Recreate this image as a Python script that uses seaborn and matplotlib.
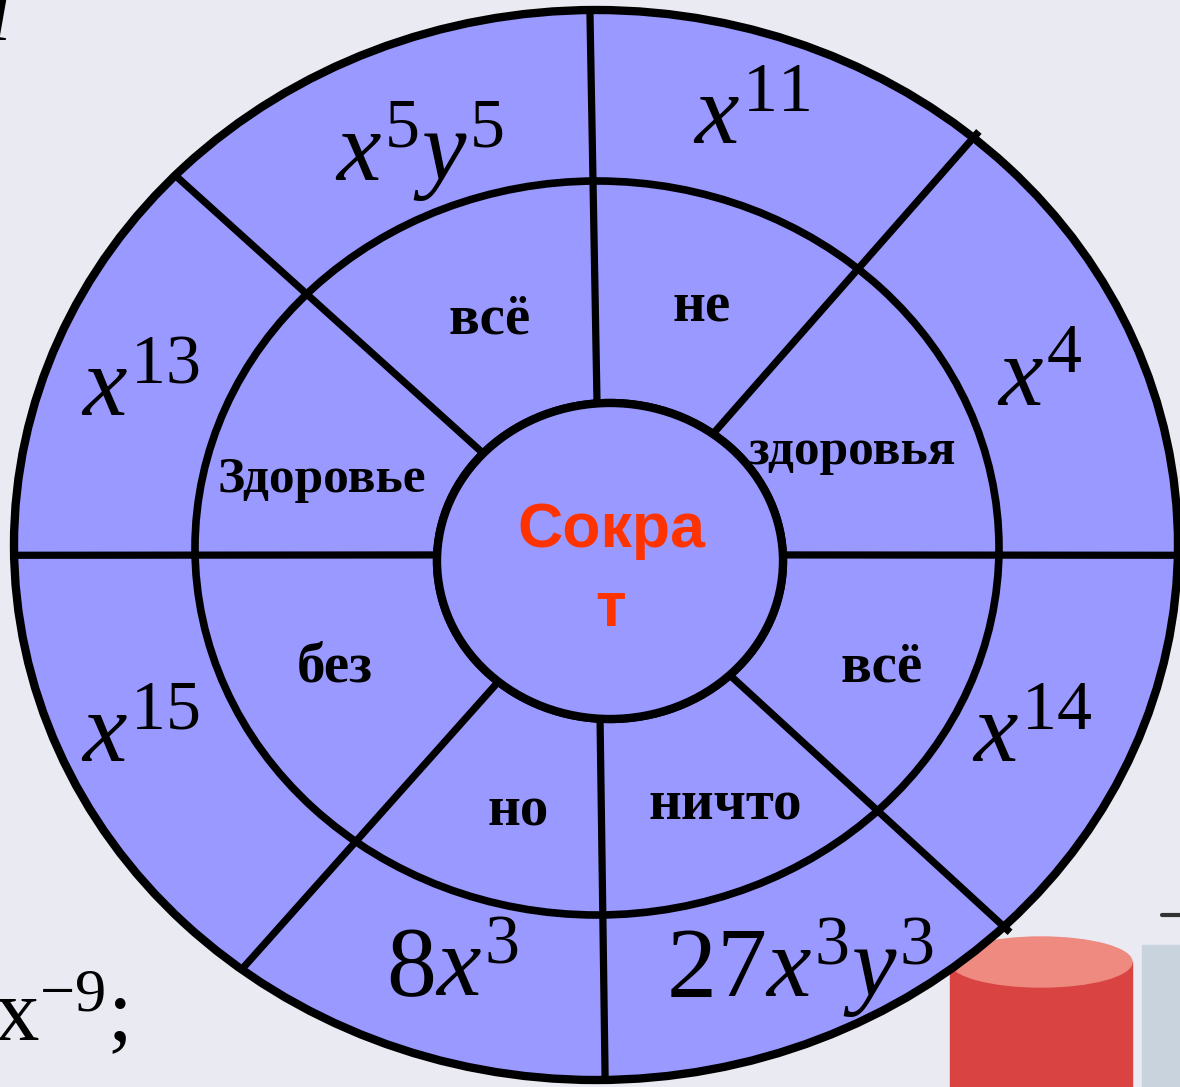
import numpy as np
import matplotlib
matplotlib.use("Agg")
import matplotlib.pyplot as plt
from matplotlib.patches import Ellipse, Rectangle
import seaborn as sns

sns.set_theme(style="white")
plt.rcParams['font.family'] = ['Liberation Serif', 'DejaVu Serif']
plt.rcParams['mathtext.fontset'] = 'custom'
plt.rcParams['mathtext.rm'] = 'Liberation Serif'
plt.rcParams['mathtext.it'] = 'Liberation Serif:italic'

# слова в среднем кольце (по часовой стрелке от верха)
words = ["не", "здоровья", "всё", "ничто", "но", "без", "Здоровье", "всё"]
word_pos = [(702, 308), (852, 452), (882, 668), (725, 805),
            (518, 812), (335, 668), (322, 480), (490, 320)]
word_size = [41, 37, 41, 41, 41, 41, 37, 41]

# выражения во внешнем кольце
exprs = [r"$x^{11}$", r"$x^{4}$", r"$x^{14}$", r"$27x^{3}y^{3}$",
         r"$8x^{3}$", r"$x^{15}$", r"$x^{13}$", r"$x^{5}y^{5}$"]
expr_pos = [(752, 120), (1040, 382), (1032, 738), (800, 968),
            (452, 972), (140, 738), (140, 392), (420, 152)]

center_text = "Сокра\nт"

# спицы: параметрические углы на внутреннем и внешнем эллипсе
spoke_inner_deg = [-94.3, -53.5, -2.2, 46.2, 93.3, 130.2, 182.2, 222.9]
spoke_outer_deg = [-90.6, -49.6, 1.1, 45.5, 89.1, 127.5, 178.9, 223.7]

fill = "#9999FF"
bg = "#E9EAF2"

# эллипсы: центр, полуоси
outer = (596, 545, 582, 535)
middle = (597, 548, 402, 367)
inner = (610, 561, 173, 158)


def on_ellipse(e, deg, k=1.0):
    cx, cy, rx, ry = e
    t = np.deg2rad(deg)
    return cx + k * rx * np.cos(t), cy + k * ry * np.sin(t)


fig = plt.figure(figsize=(11.8, 10.87), dpi=100, facecolor=bg)
ax = fig.add_axes([0, 0, 1, 1])
ax.set_facecolor(bg)
ax.set_xlim(0, 1180)
ax.set_ylim(1087, 0)
ax.axis('off')

# фоновые элементы слайда
ax.text(-6, 1040, r"х$^{\mathrm{-9}}$;", fontsize=64, color="black",
        ha="left", va="baseline")
ax.text(-12, 40, "l", fontsize=60, style="italic", color="black",
        ha="left", va="baseline")
ax.add_patch(Rectangle((950, 962), 182, 140, color="#D94443", zorder=1))
ax.add_patch(Ellipse((1041, 962), 182, 50, color="#EE8A80", zorder=1))
ax.add_patch(Rectangle((1142, 945), 60, 160, color="#C9D3DE", zorder=1))
ax.plot([1162, 1182], [915, 915], color="#333333", lw=3, zorder=1)

for e, lw in [(outer, 6), (middle, 5.5), (inner, 6)]:
    cx, cy, rx, ry = e
    ax.add_patch(Ellipse((cx, cy), 2 * rx, 2 * ry, facecolor=fill,
                         edgecolor="black", lw=lw, zorder=2))

for di, do in zip(spoke_inner_deg, spoke_outer_deg):
    x0, y0 = on_ellipse(inner, di)
    k = 1.015 if do in (-49.6, 45.5) else 1.0
    x1, y1 = on_ellipse(outer, do, k)
    ax.plot([x0, x1], [y0, y1], color="black", lw=5.2,
            solid_capstyle="butt", zorder=3)

# внутренний круг поверх спиц
cx, cy, rx, ry = inner
ax.add_patch(Ellipse((cx, cy), 2 * rx, 2 * ry, facecolor=fill,
                     edgecolor="black", lw=6, zorder=4))

for w, (x, y), fs in zip(words, word_pos, word_size):
    ax.text(x, y, w, fontsize=fs, fontweight="bold", ha="center",
            va="center", color="black", zorder=5)

for s, (x, y) in zip(exprs, expr_pos):
    ax.text(x, y, s, fontsize=72, ha="center", va="center",
            color="black", zorder=5)

ax.text(611, 570, center_text, fontsize=45, fontweight="bold",
        family=["Liberation Sans", "DejaVu Sans"], color="#FF3300",
        ha="center", va="center", linespacing=1.45, zorder=5)

fig.savefig("out.png", dpi=100, facecolor=bg)
